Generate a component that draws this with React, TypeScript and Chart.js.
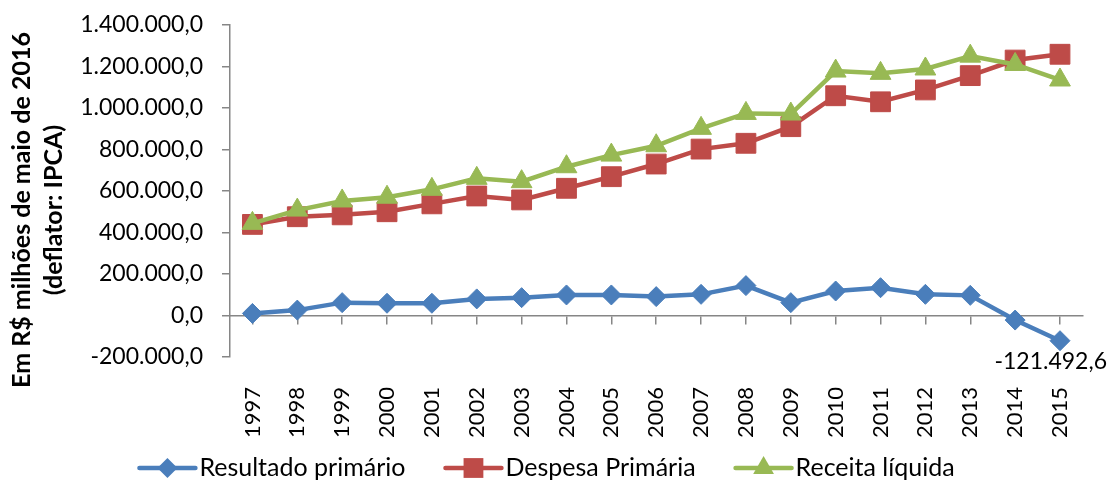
import React, { useEffect, useRef } from 'react';
import { Chart, registerables } from 'chart.js';

Chart.register(...registerables);

const years = ['1997', '1998', '1999', '2000', '2001', '2002', '2003', '2004', '2005', '2006', '2007', '2008', '2009', '2010', '2011', '2012', '2013', '2014', '2015'];
const resultadoPrimario = [10000, 26000, 62000, 59000, 59000, 80000, 86000, 99000, 99000, 91000, 102000, 144000, 62000, 118000, 134000, 102000, 97000, -22000, -121492.6];
const despesaPrimaria = [439000, 476000, 485000, 500000, 538000, 576000, 557000, 613000, 669000, 730000, 802000, 830000, 910000, 1059000, 1030000, 1087000, 1156000, 1231000, 1259000];
const receitaLiquida = [444000, 508000, 552000, 570000, 608000, 661000, 645000, 717000, 773000, 818000, 902000, 974000, 971000, 1178000, 1167000, 1188000, 1250000, 1210000, 1135000];
const seriesNames = ['Resultado primário', 'Despesa Primária', 'Receita líquida'];
const yTitleLines = ['Em R$ milhões de maio de 2016', '(deflator: IPCA)'];
const yMin = -200000;
const yMax = 1400000;
const yStep = 200000;

const BLUE = '#4A7EBB';
const RED = '#BE4B48';
const GREEN = '#98B954';
const AXIS = '#868686';
const FONT = 'Lato, "Open Sans", sans-serif';

function fmtBR(v: number, d = 1): string {
  const neg = v < 0;
  const fixed = Math.abs(v).toFixed(d);
  const [intPart, dec] = fixed.split('.');
  const intF = intPart.replace(/\B(?=(\d{3})+(?!\d))/g, '.');
  return (neg ? '-' : '') + intF + (dec ? ',' + dec : '');
}

const seriesStyles = [
  { color: BLUE, style: 'rectRot', radius: 10 },
  { color: RED, style: 'rect', radius: 14 },
  { color: GREEN, style: 'triangle', radius: 12 },
];

const yTitlePlugin = {
  id: 'yTitle',
  afterDraw(chart: any) {
    const ctx = chart.ctx;
    ctx.save();
    ctx.fillStyle = '#000';
    ctx.font = `bold 25px ${FONT}`;
    ctx.textAlign = 'center';
    ctx.textBaseline = 'middle';
    const cy = 210;
    const xs = [22, 54];
    yTitleLines.forEach((line, i) => {
      ctx.save();
      ctx.translate(xs[i], cy);
      ctx.rotate(-Math.PI / 2);
      ctx.fillText(line, 0, 0);
      ctx.restore();
    });
    ctx.restore();
  },
};

const lastLabelPlugin = {
  id: 'lastLabel',
  afterDatasetsDraw(chart: any) {
    const meta = chart.getDatasetMeta(0);
    const idx = resultadoPrimario.length - 1;
    const pt = meta.data[idx];
    if (!pt) return;
    const ctx = chart.ctx;
    ctx.save();
    ctx.font = `23px ${FONT}`;
    ctx.fillStyle = '#000';
    ctx.textAlign = 'center';
    ctx.textBaseline = 'middle';
    const text = fmtBR(resultadoPrimario[idx], 1);
    const w = ctx.measureText(text).width;
    const x = Math.min(pt.x, chart.width - 2 - w / 2);
    ctx.fillText(text, x, pt.y + 21);
    ctx.restore();
  },
};

function drawMarker(ctx: CanvasRenderingContext2D, style: string, x: number, y: number, r: number, color: string) {
  ctx.save();
  ctx.fillStyle = color;
  ctx.beginPath();
  if (style === 'rectRot') {
    ctx.moveTo(x, y - r);
    ctx.lineTo(x + r, y);
    ctx.lineTo(x, y + r);
    ctx.lineTo(x - r, y);
  } else if (style === 'rect') {
    const s = r * Math.SQRT1_2;
    ctx.rect(x - s, y - s, 2 * s, 2 * s);
  } else {
    const a = (2 * Math.PI) / 3;
    for (let i = 0; i < 3; i++) {
      const px = x + Math.sin(i * a) * r;
      const py = y - Math.cos(i * a) * r;
      if (i === 0) ctx.moveTo(px, py);
      else ctx.lineTo(px, py);
    }
  }
  ctx.closePath();
  ctx.fill();
  ctx.restore();
}

const legendPlugin = {
  id: 'customLegend',
  afterDraw(chart: any) {
    const ctx = chart.ctx;
    ctx.save();
    ctx.font = `25px ${FONT}`;
    const lineLen = 56;
    const gapText = 4;
    const gapItem = 40;
    const widths = seriesNames.map((n) => ctx.measureText(n).width);
    const total = widths.reduce((s, w) => s + lineLen + gapText + w, 0) + gapItem * (seriesNames.length - 1);
    let x = 547 - total / 2;
    const y = 468;
    seriesNames.forEach((name, i) => {
      const st = seriesStyles[i];
      ctx.strokeStyle = st.color;
      ctx.lineWidth = 4.5;
      ctx.lineCap = 'round';
      ctx.beginPath();
      ctx.moveTo(x, y);
      ctx.lineTo(x + lineLen, y);
      ctx.stroke();
      drawMarker(ctx, st.style, x + lineLen / 2, y, st.radius, st.color);
      ctx.fillStyle = '#000';
      ctx.textAlign = 'left';
      ctx.textBaseline = 'middle';
      ctx.fillText(name, x + lineLen + gapText, y);
      x += lineLen + gapText + widths[i] + gapItem;
    });
    ctx.restore();
  },
};

export default function App() {
  const ref = useRef<HTMLCanvasElement | null>(null);

  useEffect(() => {
    document.body.style.margin = '0';
    if (!ref.current) return;
    const mk = (label: string, data: number[], i: number, order: number) => ({
      label,
      data,
      borderColor: seriesStyles[i].color,
      backgroundColor: seriesStyles[i].color,
      pointBackgroundColor: seriesStyles[i].color,
      pointBorderColor: seriesStyles[i].color,
      pointStyle: seriesStyles[i].style,
      pointRadius: seriesStyles[i].radius,
      pointBorderWidth: 1,
      borderWidth: 4.5,
      tension: 0,
      fill: false,
      order,
    });
    const chart = new Chart(ref.current, {
      type: 'line',
      data: {
        labels: years,
        datasets: [
          mk(seriesNames[0], resultadoPrimario, 0, 2),
          mk(seriesNames[1], despesaPrimaria, 1, 1),
          mk(seriesNames[2], receitaLiquida, 2, 0),
        ],
      },
      options: {
        animation: false,
        responsive: false,
        layout: { padding: { top: 25, right: 23, left: 0, bottom: 0 } },
        plugins: {
          legend: { display: false },
          tooltip: { enabled: false },
        },
        scales: {
          x: {
            type: 'category',
            offset: true,
            grid: { display: false },
            border: { display: false },
            ticks: {
              minRotation: 90,
              maxRotation: 90,
              padding: 22,
              color: '#000',
              font: { family: FONT, size: 22 },
            },
            afterFit(scale: any) {
              scale.height = 124;
            },
          },
          x0: {
            type: 'category',
            position: { y: 0 } as any,
            offset: true,
            grid: { drawOnChartArea: false, drawTicks: true, tickLength: 8, color: AXIS, lineWidth: 1.5 },
            border: { display: true, color: AXIS, width: 1.5 },
            ticks: { display: false },
          },
          y: {
            min: yMin,
            max: yMax,
            ticks: {
              stepSize: yStep,
              padding: 19,
              color: '#000',
              font: { family: FONT, size: 23 },
              callback: (v: any) => fmtBR(Number(v), 1),
            },
            grid: { drawOnChartArea: false, drawTicks: true, tickLength: 8, color: AXIS, lineWidth: 1.5 },
            border: { display: true, color: AXIS, width: 1.5 },
            afterFit(scale: any) {
              scale.width = 230;
              scale.paddingTop = 0;
              scale.paddingBottom = 0;
            },
          },
        },
      },
      plugins: [yTitlePlugin, lastLabelPlugin, legendPlugin],
    } as any);
    return () => chart.destroy();
  }, []);

  return (
    <div style={{ width: 1109, height: 481 }}>
      <canvas ref={ref} width={1109} height={481} style={{ display: 'block' }} />
    </div>
  );
}
